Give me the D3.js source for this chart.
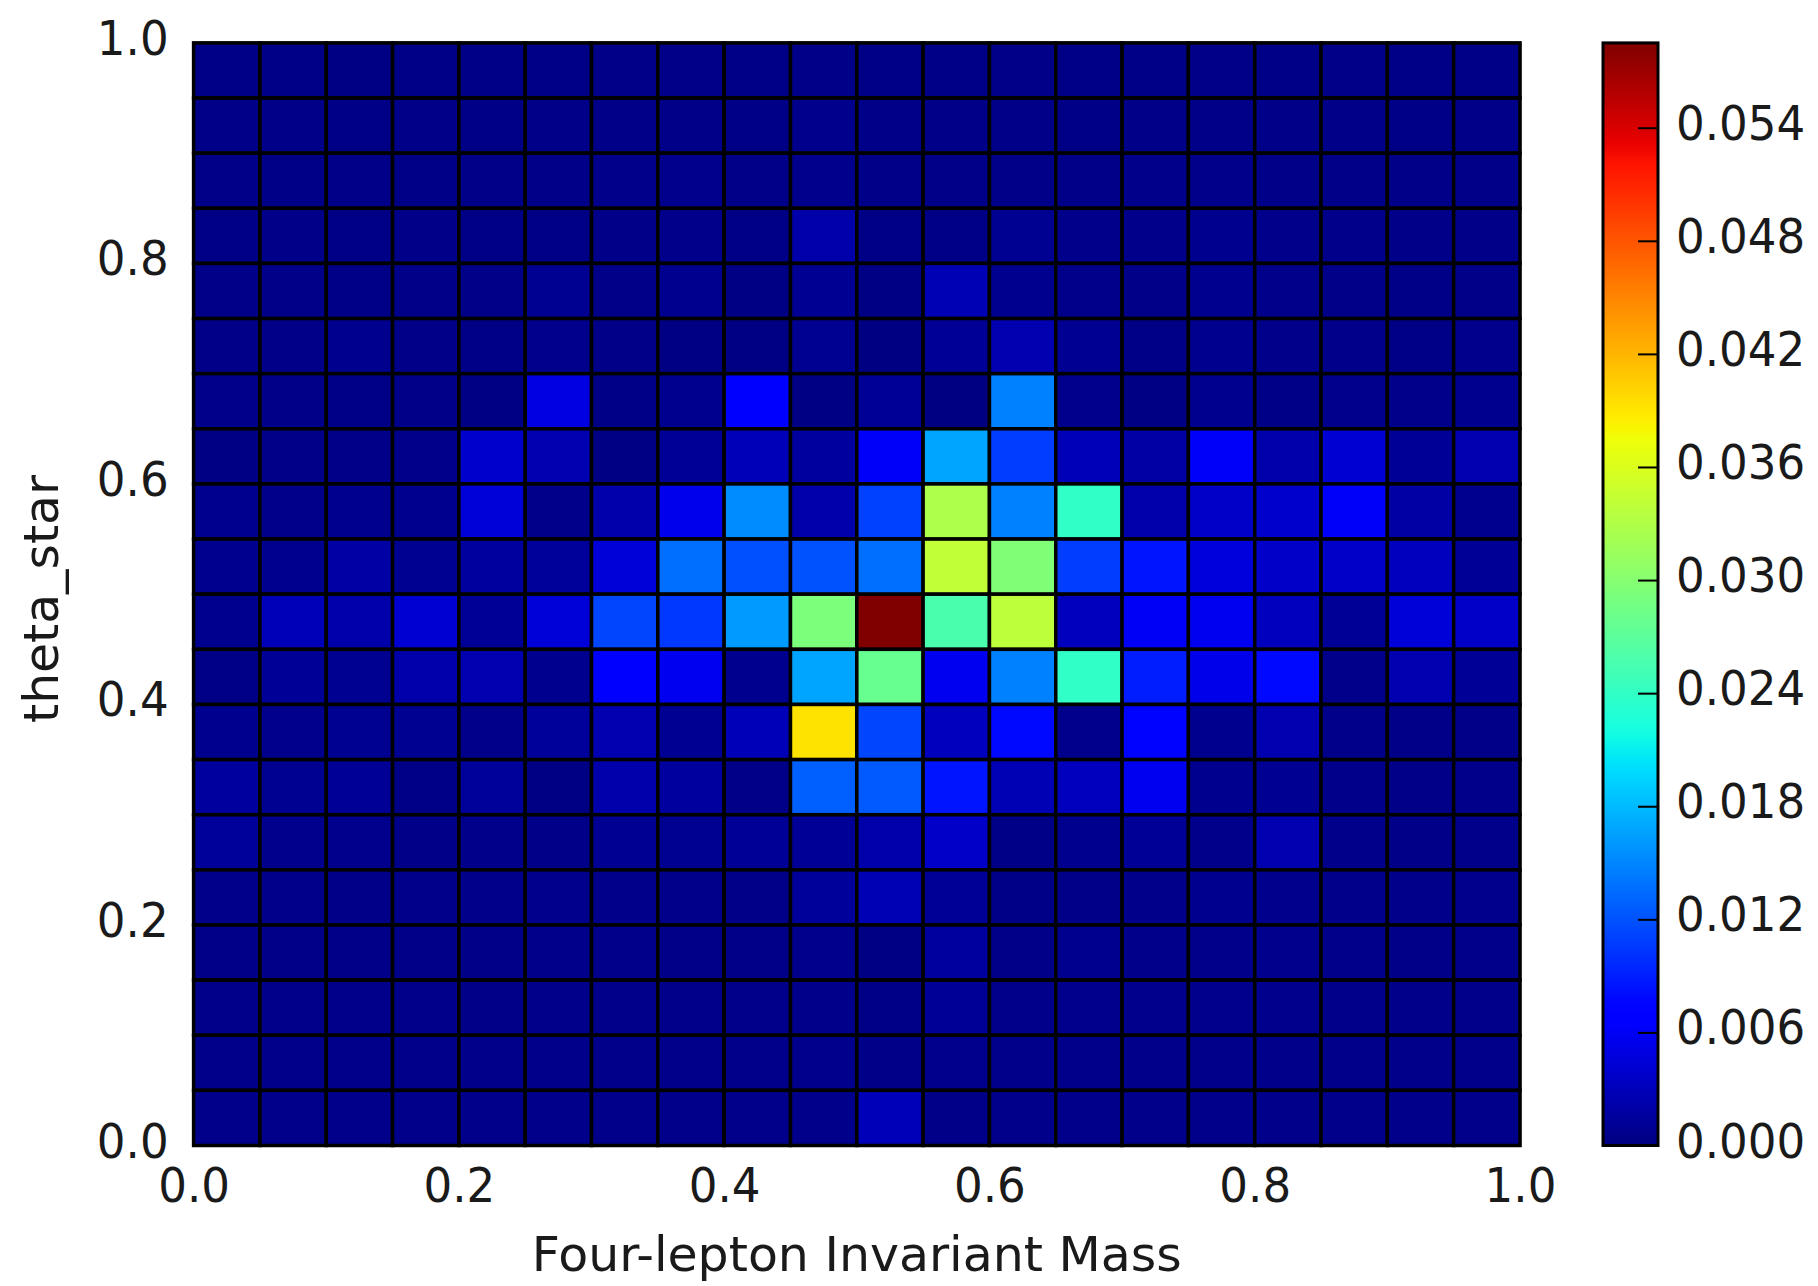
<!DOCTYPE html>
<html>
<head>
<meta charset="utf-8">
<script src="https://cdn.jsdelivr.net/npm/d3@7"></script>
<style>
  html, body { margin: 0; padding: 0; background: #fff; }
  svg { display: block; font-family: "DejaVu Sans", sans-serif; }
</style>
</head>
<body>
<svg id="chart" width="1818" height="1286"></svg>
<script>
// Bin edges along each axis (20 bins each, 0..1)
const massEdges = d3.range(21).map(i => i / 20);
const thetaEdges = d3.range(21).map(i => i / 20);

// Normalised 2D histogram, one row per theta_star bin, listed from the top row (0.95-1.0) down.
const densityRows = [
  [0.0004,0.0004,0.0003,0.0004,0.0004,0.0004,0.0005,0.0005,0.0004,0.0005, 0.0004,0.0004,0.0005,0.0004,0.0004,0.0005,0.0004,0.0005,0.0004,0.0004],
  [0.0005,0.0005,0.0004,0.0005,0.0004,0.0005,0.0005,0.0005,0.0004,0.0007, 0.0005,0.0005,0.0005,0.0004,0.0005,0.0005,0.0005,0.0005,0.0004,0.0005],
  [0.0005,0.0004,0.0005,0.0004,0.0005,0.0005,0.0006,0.0007,0.0005,0.0007, 0.0005,0.0005,0.0005,0.0005,0.0006,0.0006,0.0005,0.0005,0.0005,0.0005],
  [0.0004,0.0005,0.0004,0.0005,0.0004,0.0004,0.0005,0.0006,0.0004,0.0022, 0.0004,0.0004,0.0009,0.0006,0.0006,0.0008,0.0006,0.0006,0.0005,0.0005],
  [0.0005,0.0005,0.0004,0.0005,0.0005,0.0009,0.0005,0.0008,0.0003,0.0010, 0.0003,0.0027,0.0008,0.0006,0.0005,0.0008,0.0006,0.0005,0.0004,0.0005],
  [0.0005,0.0005,0.0008,0.0005,0.0004,0.0007,0.0005,0.0003,0.0003,0.0009, 0.0002,0.0012,0.0025,0.0010,0.0004,0.0008,0.0006,0.0006,0.0004,0.0007],
  [0.0006,0.0005,0.0004,0.0005,0.0003,0.0049,0.0004,0.0008,0.0064,0.0003, 0.0012,0.0002,0.0147,0.0007,0.0003,0.0008,0.0004,0.0007,0.0006,0.0008],
  [0.0003,0.0005,0.0005,0.0006,0.0039,0.0025,0.0003,0.0012,0.0029,0.0016, 0.0062,0.0168,0.0108,0.0029,0.0019,0.0062,0.0022,0.0042,0.0012,0.0025],
  [0.0008,0.0006,0.0008,0.0008,0.0045,0.0006,0.0022,0.0055,0.0153,0.0022, 0.0110,0.0328,0.0147,0.0239,0.0022,0.0037,0.0039,0.0062,0.0019,0.0008],
  [0.0008,0.0008,0.0019,0.0009,0.0016,0.0014,0.0045,0.0136,0.0119,0.0120, 0.0136,0.0342,0.0296,0.0108,0.0085,0.0047,0.0037,0.0037,0.0031,0.0012],
  [0.0008,0.0029,0.0022,0.0042,0.0012,0.0045,0.0113,0.0105,0.0162,0.0293, 0.0585,0.0257,0.0339,0.0031,0.0060,0.0057,0.0031,0.0012,0.0045,0.0037],
  [0.0004,0.0012,0.0009,0.0022,0.0025,0.0008,0.0064,0.0057,0.0008,0.0168, 0.0278,0.0057,0.0147,0.0239,0.0090,0.0054,0.0078,0.0006,0.0025,0.0012],
  [0.0008,0.0007,0.0009,0.0009,0.0006,0.0014,0.0025,0.0010,0.0029,0.0392, 0.0113,0.0031,0.0078,0.0007,0.0074,0.0008,0.0025,0.0006,0.0005,0.0005],
  [0.0016,0.0009,0.0012,0.0004,0.0014,0.0003,0.0022,0.0016,0.0005,0.0128, 0.0125,0.0085,0.0027,0.0031,0.0057,0.0008,0.0010,0.0006,0.0005,0.0006],
  [0.0014,0.0007,0.0007,0.0005,0.0006,0.0005,0.0010,0.0009,0.0012,0.0012, 0.0022,0.0037,0.0004,0.0008,0.0012,0.0006,0.0025,0.0006,0.0005,0.0006],
  [0.0006,0.0006,0.0005,0.0006,0.0006,0.0007,0.0006,0.0006,0.0005,0.0014, 0.0027,0.0012,0.0004,0.0005,0.0006,0.0008,0.0007,0.0006,0.0006,0.0007],
  [0.0005,0.0005,0.0005,0.0005,0.0005,0.0006,0.0006,0.0005,0.0005,0.0007, 0.0003,0.0016,0.0005,0.0008,0.0006,0.0006,0.0007,0.0006,0.0005,0.0006],
  [0.0006,0.0006,0.0006,0.0006,0.0005,0.0006,0.0006,0.0006,0.0006,0.0006, 0.0004,0.0012,0.0006,0.0007,0.0007,0.0007,0.0007,0.0006,0.0006,0.0006],
  [0.0006,0.0006,0.0006,0.0006,0.0006,0.0006,0.0006,0.0006,0.0006,0.0007, 0.0005,0.0007,0.0006,0.0006,0.0006,0.0006,0.0006,0.0006,0.0006,0.0006],
  [0.0006,0.0006,0.0006,0.0006,0.0006,0.0006,0.0006,0.0006,0.0006,0.0006, 0.0029,0.0005,0.0006,0.0006,0.0006,0.0006,0.0006,0.0006,0.0006,0.0006]
];

// Axis ticks and labels
const axisTicks = [0, 0.2, 0.4, 0.6, 0.8, 1.0];
const colorTicks = [0, 0.006, 0.012, 0.018, 0.024, 0.030, 0.036, 0.042, 0.048, 0.054];
const xTitle = "Four-lepton Invariant Mass";
const yTitle = "theta_star";

// Classic "jet" colour map, as piecewise-linear channel segments
const jetSegments = {
  r: [[0, 0], [0.35, 0], [0.66, 1], [0.89, 1], [1, 0.5]],
  g: [[0, 0], [0.125, 0], [0.375, 1], [0.64, 1], [0.91, 0], [1, 0]],
  b: [[0, 0.5], [0.11, 1], [0.34, 1], [0.65, 0], [1, 0]]
};
function channel(seg, t) {
  t = Math.max(0, Math.min(1, t));
  for (let i = 1; i < seg.length; i++) {
    if (t <= seg[i][0]) {
      const [x0, y0] = seg[i - 1], [x1, y1] = seg[i];
      return y0 + (y1 - y0) * (t - x0) / (x1 - x0);
    }
  }
  return seg[seg.length - 1][1];
}
function jet(t) {
  return d3.rgb(255 * channel(jetSegments.r, t),
                255 * channel(jetSegments.g, t),
                255 * channel(jetSegments.b, t)).formatHex();
}

const svg = d3.select("#chart");
const plot = { left: 193.6, right: 1520, top: 42.9, bottom: 1145.5 };
const bar = { left: 1603, right: 1658 };
const fontSize = 48;
const squeeze = 0.94;         // glyphs are set a little narrower than tall
const textColor = "#1a1a1a";

// Narrow each label horizontally while keeping its height
function condense(sel) {
  sel.each(function () {
    const w = this.getComputedTextLength();
    d3.select(this).attr("textLength", w * squeeze).attr("lengthAdjust", "spacingAndGlyphs");
  });
}

const vmax = d3.max(densityRows.flat());
const x = d3.scaleLinear().domain([0, 1]).range([plot.left, plot.right]);
const y = d3.scaleLinear().domain([0, 1]).range([plot.bottom, plot.top]);
const color = d3.scaleSequential(jet).domain([0, vmax]);

// Heatmap cells
const nRows = densityRows.length;
const cells = [];
densityRows.forEach((row, r) => {
  const j = nRows - 1 - r; // theta bin index from the bottom
  row.forEach((v, i) => cells.push({ i, j, v }));
});

svg.append("g")
  .selectAll("rect")
  .data(cells)
  .join("rect")
  .attr("x", d => x(massEdges[d.i]))
  .attr("y", d => y(thetaEdges[d.j + 1]))
  .attr("width", d => x(massEdges[d.i + 1]) - x(massEdges[d.i]))
  .attr("height", d => y(thetaEdges[d.j]) - y(thetaEdges[d.j + 1]))
  .attr("fill", d => color(d.v))
  .attr("stroke", "#000")
  .attr("stroke-width", 3.5);

// Axes frame
svg.append("rect")
  .attr("x", plot.left).attr("y", plot.top)
  .attr("width", plot.right - plot.left).attr("height", plot.bottom - plot.top)
  .attr("fill", "none").attr("stroke", "#000").attr("stroke-width", 2.5);

// X axis
const xAxis = svg.append("g")
  .attr("transform", `translate(0,${plot.bottom})`)
  .call(d3.axisBottom(x).tickValues(axisTicks).tickFormat(d3.format(".1f")).tickSize(0).tickPadding(0));
xAxis.select(".domain").remove();
xAxis.selectAll("text")
  .attr("y", 56).attr("dy", null)
  .attr("font-size", fontSize).attr("font-family", "DejaVu Sans").attr("fill", textColor)
  .call(condense);

// Y axis
const yAxis = svg.append("g")
  .attr("transform", `translate(${plot.left},0)`)
  .call(d3.axisLeft(y).tickValues(axisTicks).tickFormat(d3.format(".1f")).tickSize(0).tickPadding(0));
yAxis.select(".domain").remove();
yAxis.selectAll("text")
  .attr("x", -25).attr("dy", "0.24em")
  .attr("font-size", fontSize).attr("font-family", "DejaVu Sans").attr("fill", textColor)
  .call(condense);

// Axis titles
svg.append("text")
  .attr("x", (plot.left + plot.right) / 2).attr("y", 1271)
  .attr("text-anchor", "middle")
  .attr("font-size", fontSize).attr("fill", textColor)
  .attr("textLength", 650).attr("lengthAdjust", "spacingAndGlyphs")
  .text(xTitle);

svg.append("text")
  .attr("transform", `translate(58,599) rotate(-90)`)
  .attr("text-anchor", "middle")
  .attr("font-size", fontSize).attr("fill", textColor)
  .attr("textLength", 248).attr("lengthAdjust", "spacingAndGlyphs")
  .text(yTitle);

// Colour bar
const grad = svg.append("defs").append("linearGradient")
  .attr("id", "jetGrad").attr("x1", 0).attr("y1", 1).attr("x2", 0).attr("y2", 0);
grad.selectAll("stop")
  .data(d3.range(0, 1.0001, 0.01))
  .join("stop")
  .attr("offset", d => d)
  .attr("stop-color", d => jet(d));

const cy = d3.scaleLinear().domain([0, vmax]).range([plot.bottom, plot.top]);
svg.append("rect")
  .attr("x", bar.left).attr("y", plot.top)
  .attr("width", bar.right - bar.left).attr("height", plot.bottom - plot.top)
  .attr("fill", "url(#jetGrad)");

const cAxis = svg.append("g")
  .attr("transform", `translate(${bar.right},0)`)
  .call(d3.axisRight(cy).tickValues(colorTicks).tickFormat(d3.format(".3f"))
    .tickSizeInner(-20).tickSizeOuter(0).tickPadding(18));
cAxis.select(".domain").remove();
cAxis.selectAll("line").attr("stroke", "#000").attr("stroke-width", 2);
cAxis.selectAll("text")
  .attr("dy", "0.24em")
  .attr("font-size", fontSize).attr("font-family", "DejaVu Sans").attr("fill", textColor)
  .call(condense);

svg.append("rect")
  .attr("x", bar.left).attr("y", plot.top)
  .attr("width", bar.right - bar.left).attr("height", plot.bottom - plot.top)
  .attr("fill", "none").attr("stroke", "#000").attr("stroke-width", 3);
</script>
</body>
</html>
